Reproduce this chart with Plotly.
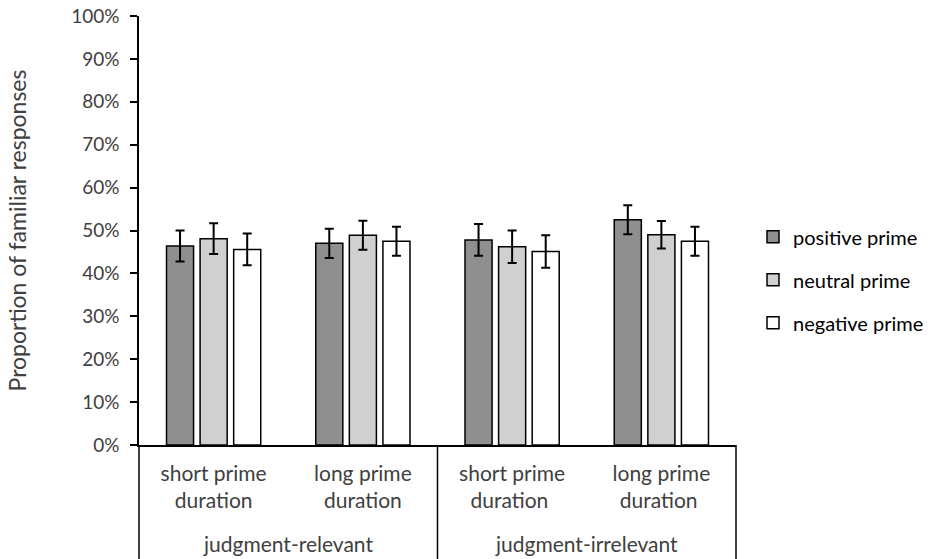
import plotly.graph_objects as go

categories = ["short prime<br>duration", "long prime<br>duration",
              "short prime<br>duration ", "long prime<br>duration "]
groups = ["judgment-relevant", "judgment-irrelevant"]
series_names = ["positive prime", "neutral prime", "negative prime"]
positive = [0.464, 0.470, 0.478, 0.525]
neutral = [0.481, 0.489, 0.462, 0.490]
negative = [0.456, 0.475, 0.451, 0.475]
positive_err = [0.036, 0.034, 0.037, 0.034]
neutral_err = [0.036, 0.034, 0.038, 0.032]
negative_err = [0.037, 0.034, 0.038, 0.034]
y_ticks = [0, 0.1, 0.2, 0.3, 0.4, 0.5, 0.6, 0.7, 0.8, 0.9, 1.0]

colors = ["#8f8f8f", "#d0d0d0", "#ffffff"]
FONT = "Lato"
TXT = "#404040"

fig = go.Figure()
for name, vals, errs, col in zip(series_names, [positive, neutral, negative],
                                 [positive_err, neutral_err, negative_err], colors):
    fig.add_trace(go.Bar(
        x=categories, y=vals, name=name, legendgroup=name,
        marker=dict(color=col, line=dict(color="black", width=1.5)),
        error_y=dict(type="data", array=errs, visible=True, color="black",
                     thickness=2, width=4.5),
    ))

fig.update_layout(
    width=930, height=559,
    margin=dict(l=139, r=194, t=16, b=114, autoexpand=False),
    paper_bgcolor="white", plot_bgcolor="white",
    barmode="group", bargap=0.325, bargroupgap=0.194,
    font=dict(family=FONT, color=TXT, size=20),
    showlegend=True,
    legend=dict(x=1.0285, xanchor="left", y=0.385, yanchor="middle",
                font=dict(family=FONT, size=20, color="black"),
                tracegroupgap=14, bgcolor="rgba(0,0,0,0)"),
)
fig.update_xaxes(
    type="category", range=[-0.5, 3.5],
    showline=True, linecolor="black", linewidth=1.5,
    ticks="", showgrid=False, zeroline=False,
    tickfont=dict(family=FONT, size=21, color=TXT),
    ticklabelstandoff=9,
)
fig.update_yaxes(
    range=[0, 1], tickvals=y_ticks, tickformat=".0%",
    showline=True, linecolor="black", linewidth=1.5,
    ticks="outside", ticklen=7, tickcolor="black", tickwidth=1.5,
    showgrid=False, zeroline=False,
    tickfont=dict(family=FONT, size=19, color=TXT),
    ticklabelstandoff=7,
    title=dict(text="Proportion of familiar responses",
               font=dict(family=FONT, size=23, color=TXT), standoff=38),
    automargin=False,
)

# category-axis box lines below the plot
ybot = -0.3
fig.add_shape(type="line", xref="paper", yref="paper", x0=0, x1=0, y0=0, y1=ybot,
              line=dict(color="black", width=1.5))
fig.add_shape(type="line", xref="paper", yref="paper", x0=1, x1=1, y0=0, y1=ybot,
              line=dict(color="black", width=1.5))
fig.add_shape(type="line", xref="x", yref="paper", x0=1.5, x1=1.5, y0=0, y1=ybot,
              line=dict(color="black", width=1.5))

for gx, g in zip([0.5, 2.5], groups):
    fig.add_annotation(x=gx, y=-0.23, xref="x", yref="paper", text=g,
                       showarrow=False, xanchor="center", yanchor="middle",
                       font=dict(family=FONT, size=21, color=TXT))

fig.write_html("out.html")
